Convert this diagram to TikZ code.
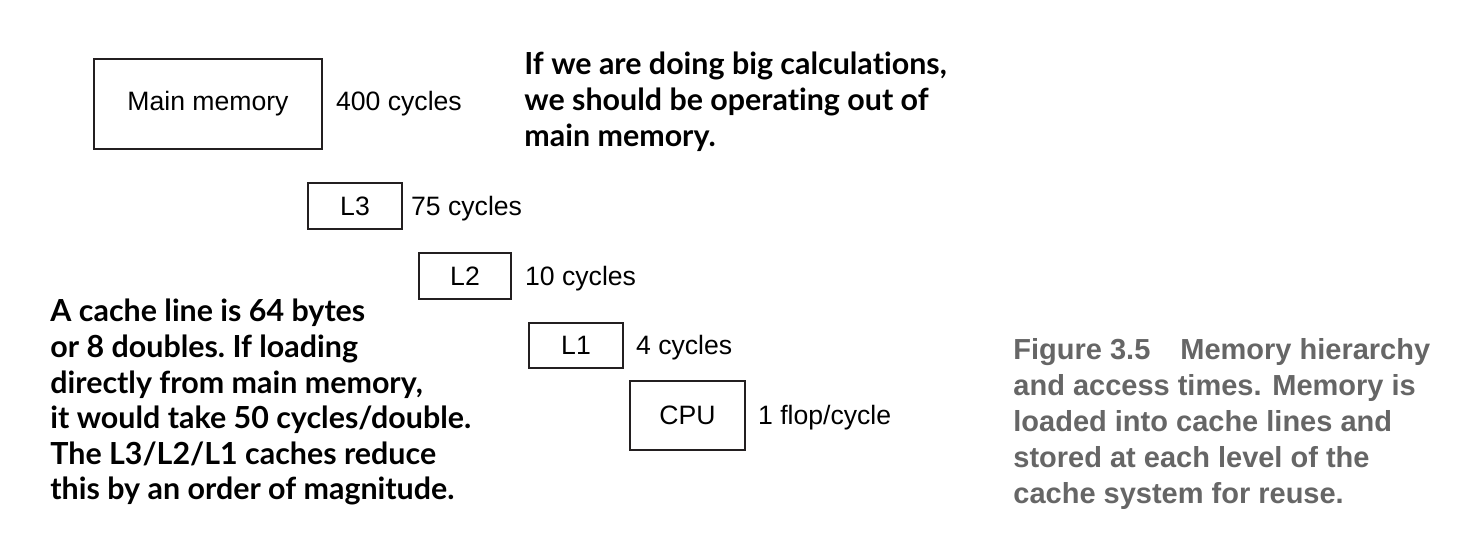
\documentclass[tikz,border=0pt]{standalone}
\usepackage{fontspec}
\setmainfont{Liberation Sans}
\newfontfamily\notefont{Lato}[Ligatures=NoCommon]
\usepackage{tikz}
\usetikzlibrary{
  positioning
}
\definecolor{memLine}{HTML}{231F20}
\definecolor{memCaption}{HTML}{666666}
\tikzset{
  membox/.style={
    draw=memLine, line width=0.75pt, inner sep=0pt,
    font=\fontsize{13.3}{16}\selectfont
  },
  cyclelabel/.style={inner sep=0pt, font=\fontsize{13.3}{16}\selectfont},
  memnote/.style={
    inner sep=0pt, anchor=north west, align=left,
    font=\notefont\bfseries\fontsize{15.2}{17.8}\selectfont\frenchspacing
  },
  figcaption/.style={
    inner sep=0pt, anchor=north west, align=left, text=memCaption,
    font=\bfseries\fontsize{14.5}{18}\selectfont
  }
}

\begin{document}
\begin{tikzpicture}[x=0.5pt, y=-0.5pt, node distance=6pt]
  \useasboundingbox (0,0) rectangle (1467,546);
  \node[membox, minimum width=114pt, minimum height=45pt] (main) at (208,104) {Main memory};
  \node[membox, minimum width=47pt, minimum height=23pt] (l3) at (355,206) {L3};
  \node[membox, minimum width=46pt, minimum height=23pt] (l2) at (465,276) {L2};
  \node[membox, minimum width=47pt, minimum height=22.5pt] (l1) at (576,345.5) {L1};
  \node[membox, minimum width=57.5pt, minimum height=34.5pt] (cpu) at (687.5,415.5) {CPU};
  \node[cyclelabel, base right=6.5pt of main] (mainlat) {400 cycles};
  \node[cyclelabel, base right=4pt of l3] (l3lat) {75 cycles};
  \node[cyclelabel, base right=6.5pt of l2] (l2lat) {10 cycles};
  \node[cyclelabel, base right=6pt of l1] (l1lat) {4 cycles};
  \node[cyclelabel, base right=6pt of cpu] (cpulat) {1 flop/cycle};
  \node[memnote, font=\notefont\bfseries\fontsize{15.2}{18}\selectfont] (bignote) at (524,52) {If we are doing big calculations,\\we should be operating out of\\main memory.};
  \node[memnote] (linenote) at (50,299) {A cache line is 64 bytes\\or 8 doubles.\ If loading\\directly from main memory,\\it would take 50 cycles/double.\\The L3/L2/L1 caches reduce\\this by an order of magnitude.};
  \node[figcaption] (caption) at (1013,338) {Figure 3.5\hspace{15pt}Memory hierarchy\\and access times. Memory is\\loaded into cache lines and\\stored at each level of the\\cache system for reuse.};
\end{tikzpicture}
\end{document}
